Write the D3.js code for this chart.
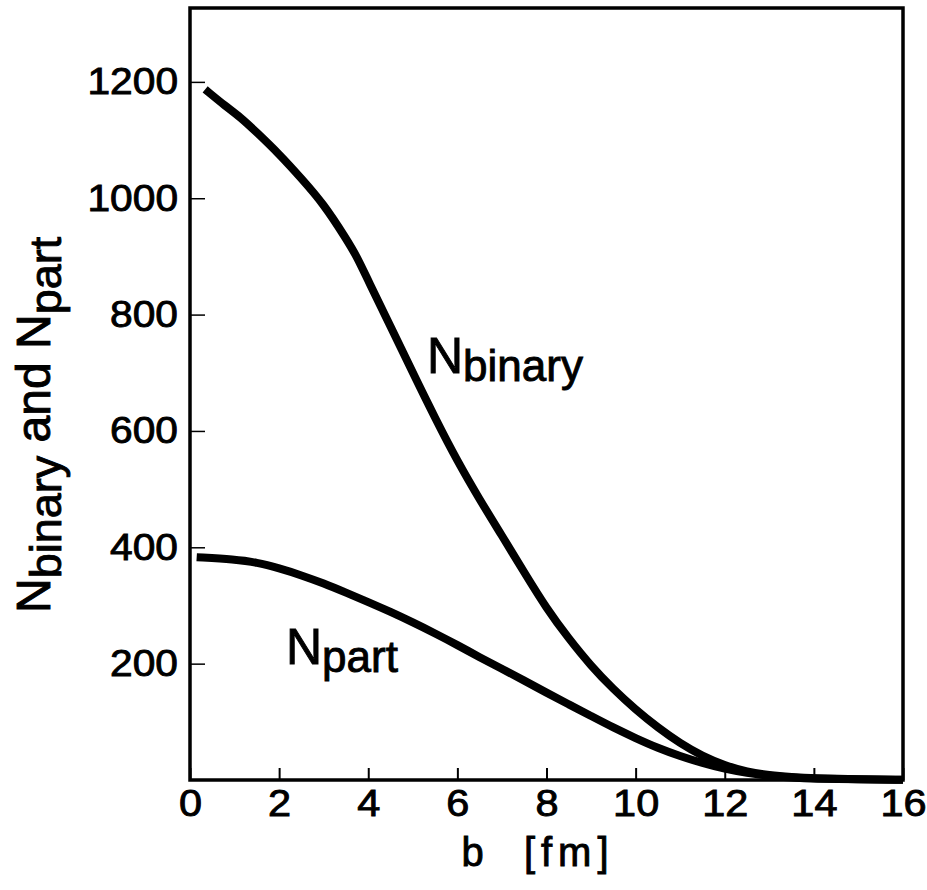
<!DOCTYPE html>
<html>
<head>
<meta charset="utf-8">
<script src="https://cdn.jsdelivr.net/npm/d3@7"></script>
<style>
    body { margin: 0; background: white; }
    text { font-family: "Liberation Sans", Arial, Helvetica, sans-serif; fill: black; stroke: black; stroke-width: 0.9px; }
</style>
</head>
<body>
<svg id="chart" width="927" height="890"></svg>
<script>
// impact parameter b [fm]
const bBinary = [0.34, 0.8, 1.12, 1.5, 2.0, 2.5, 3.0, 3.5, 3.75, 4.0, 4.5, 5.0, 5.5, 6.0, 6.5, 7.0, 7.5, 8.0, 8.5, 9.0, 9.5, 10.0, 10.5, 11.0, 11.5, 12.0, 12.5, 13.0, 13.5, 14.0, 15.0, 16.0];
const nBinary = [1187, 1158, 1140, 1113, 1076, 1034, 990, 931, 899, 858, 780, 700, 622, 548, 482, 420, 357, 295, 243, 196, 156, 121, 90, 63, 41, 25, 14, 8, 5, 3, 1, 0.5];

const bPart = [0.15, 1.0, 1.5, 2.0, 2.5, 3.0, 3.5, 4.0, 4.5, 5.0, 5.5, 6.0, 6.5, 7.0, 7.5, 8.0, 8.5, 9.0, 9.5, 10.0, 10.5, 11.0, 11.5, 12.0, 12.5, 13.0, 13.5, 14.0, 15.0, 16.0];
const nPart = [383, 379, 374, 364, 352, 338, 322, 306, 289, 271, 252, 232, 211, 191, 171, 150, 130, 110, 90, 72, 55, 41, 29, 19, 12, 7, 4, 2, 1, 0.5];

const xTicks = [0, 2, 4, 6, 8, 10, 12, 14, 16];
const yTicks = [200, 400, 600, 800, 1000, 1200];

const plotLeft = 190, plotRight = 903, plotTop = 8, plotBottom = 780;

const svg = d3.select('#chart');

const x = d3.scaleLinear().domain([0, 16]).range([plotLeft, plotRight]);
const y = d3.scaleLinear().domain([0, 1327]).range([plotBottom, plotTop]);

// curves
const line = d3.line()
    .x(d => x(d[0]))
    .y(d => y(d[1]))
    .curve(d3.curveBasis);

[[bBinary, nBinary], [bPart, nPart]].forEach(([bs, ns]) => {
    svg.append('path')
        .datum(d3.zip(bs, ns))
        .attr('d', line)
        .attr('fill', 'none')
        .attr('stroke', 'black')
        .attr('stroke-width', 8);
});

// the original lettering is a bit wider than Arial, stretch it a little
function widen(sel, k) {
    sel.each(function () {
        const w = this.getComputedTextLength();
        d3.select(this).attr('textLength', w * k).attr('lengthAdjust', 'spacingAndGlyphs');
    });
}

// axes with inward ticks
const xAxis = svg.append('g')
    .attr('transform', `translate(0,${plotBottom})`)
    .call(d3.axisBottom(x).tickValues(xTicks).tickFormat(d3.format('d')).tickSize(-12).tickPadding(10));
xAxis.select('.domain').remove();
xAxis.selectAll('line').attr('stroke-width', 2);
xAxis.selectAll('text')
    .attr('font-size', 37)
    .attr('dy', '0.71em')
    .style('font-family', '"Liberation Sans", Arial, sans-serif');
widen(xAxis.selectAll('text'), 1.12);

const yAxis = svg.append('g')
    .attr('transform', `translate(${plotLeft},0)`)
    .call(d3.axisLeft(y).tickValues(yTicks).tickFormat(d3.format('d')).tickSize(-15).tickPadding(12));
yAxis.select('.domain').remove();
yAxis.selectAll('line').attr('stroke-width', 1.5);
yAxis.selectAll('text')
    .attr('font-size', 37)
    .style('font-family', '"Liberation Sans", Arial, sans-serif');
widen(yAxis.selectAll('text'), 1.1);

// frame
svg.append('rect')
    .attr('x', plotLeft).attr('y', plotTop)
    .attr('width', plotRight - plotLeft).attr('height', plotBottom - plotTop)
    .attr('fill', 'none')
    .attr('stroke', 'black')
    .attr('stroke-width', 3.5);

// x title
svg.append('text')
    .attr('x', 538).attr('y', 866)
    .attr('text-anchor', 'middle')
    .attr('font-size', 40)
    .attr('letter-spacing', 6)
    .style('white-space', 'pre')
    .text('b  [fm]');

// y title
const yTitle = svg.append('text')
    .attr('transform', 'translate(50,613) rotate(-90)')
    .attr('font-size', 48);
yTitle.append('tspan').text('N');
yTitle.append('tspan').attr('font-size', 45).attr('dy', 11).text('binary');
yTitle.append('tspan').attr('dy', -11).style('white-space', 'pre').text(' and N');
yTitle.append('tspan').attr('font-size', 45).attr('dy', 11).text('part');

// curve labels
function subLabel(px, py, sub) {
    const t = svg.append('text')
        .attr('x', px).attr('y', py)
        .attr('font-size', 50);
    t.append('tspan').text('N');
    t.append('tspan').attr('font-size', 44).attr('dy', 8).text(sub);
}
subLabel(427, 373, 'binary');
subLabel(286, 664, 'part');
</script>
</body>
</html>
